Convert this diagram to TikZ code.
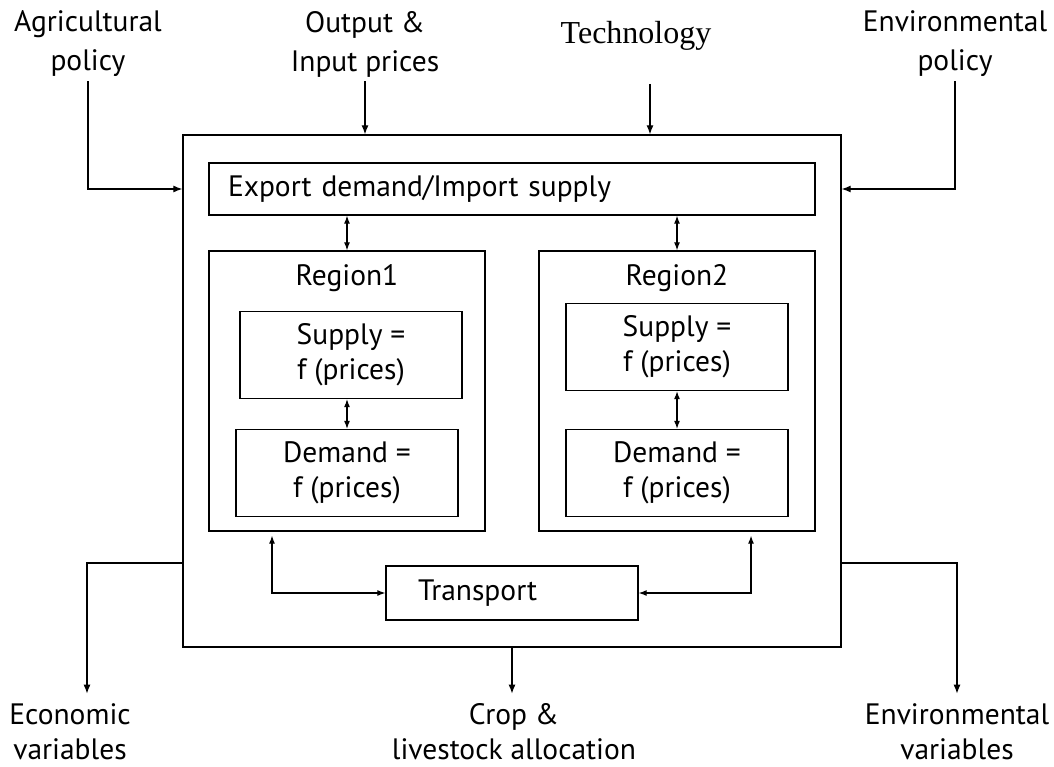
\documentclass[tikz,border=0pt]{standalone}
\usepackage{fontspec}
\setmainfont{PT Sans}
\newfontfamily\seriffont{Liberation Serif}
\usetikzlibrary{arrows.meta}
\tikzstyle{box} = [rectangle, draw=black, line width=1.3pt, inner sep=0pt]
\tikzstyle{func} = [box, minimum width=222pt, minimum height=87pt, align=center]
\tikzstyle{region} = [box, minimum width=276pt, minimum height=280pt]
\tikzstyle{driver} = [align=center, inner sep=4pt]
\tikzstyle{result} = [align=center, inner sep=1pt]
\tikzstyle{arrow} = [line width=1.2pt, -{Latex[length=9pt,width=7pt]}]
\tikzstyle{dblarrow} = [line width=1.2pt, {Latex[length=8pt,width=6pt]}-{Latex[length=8pt,width=6pt]}]

\begin{document}
\begin{tikzpicture}[x=1pt, y=-1pt, font=\fontsize{29.5}{35}\selectfont]
\fill [white] (0,0) rectangle (1054,767);
\useasboundingbox (0,0) rectangle (1054,767);

\node (model) [box, minimum width=658pt, minimum height=512pt] at (512,391) {};
\node (export) [box, minimum width=606pt, minimum height=52pt, text width=568pt, align=left] at (512,189) {Export demand/Import supply};
\node (region1) [region] at (347,391) {};
\node (region1name) at (347,278) {Region1};
\node (supply1) [func] at (351,355) {Supply =\\f (prices)};
\node (demand1) [func] at (347,473) {Demand =\\f (prices)};
\node (region2) [region] at (677,391) {};
\node (region2name) at (677,278) {Region2};
\node (supply2) [func] at (677,347) {Supply =\\f (prices)};
\node (demand2) [func] at (677,473) {Demand =\\f (prices)};
\node (transport) [box, minimum width=252pt, minimum height=54pt, text width=188pt, align=left] at (512,593) {Transport};

\node (agripol) [driver, font=\fontsize{29.5}{39}\selectfont] at (88,44) {Agricultural\\policy};
\node (prices) [driver, font=\fontsize{29.5}{39}\selectfont] at (365,44) {Output \&\\Input prices};
\node (tech) [driver, font=\seriffont\fontsize{32}{38}\selectfont] at (636,36) {Technology};
\node (envpol) [driver, font=\fontsize{29.5}{39}\selectfont] at (955,44) {Environmental\\policy};
\node (econ) [result] at (70,732) {Economic\\variables};
\node (alloc) [result] at (514,732) {Crop \&\\livestock allocation};
\node (envvar) [result] at (957,732) {Environmental\\variables};
\coordinate (techin) at (650,84);

\draw [arrow] (agripol.south) |- (model.west |- export.center);
\draw [arrow] (prices.south) -- (prices.south |- model.north);
\draw [arrow] (techin) -- (techin |- model.north);
\draw [arrow] (envpol.south) |- (model.east |- export.center);

\draw [dblarrow] (export.south -| region1.north) -- (region1.north);
\draw [dblarrow] (export.south -| region2.north) -- (region2.north);
\draw [dblarrow] (demand1.north |- supply1.south) -- (demand1.north);
\draw [dblarrow] (supply2.south) -- (demand2.north);
\draw [dblarrow, shorten <=4pt] ([xshift=-75pt]region1.south) |- (transport.west);
\draw [dblarrow, shorten <=4pt] ([xshift=74pt]region2.south) |- (transport.east);

\draw [arrow, shorten >=9pt] ([yshift=-172pt]model.west) -| ([xshift=17pt]econ.north);
\draw [arrow, shorten >=9pt] (model.south) -- (model.south |- alloc.north);
\draw [arrow, shorten >=9pt] ([yshift=-172pt]model.east) -| (envvar.north);

\end{tikzpicture}
\end{document}
